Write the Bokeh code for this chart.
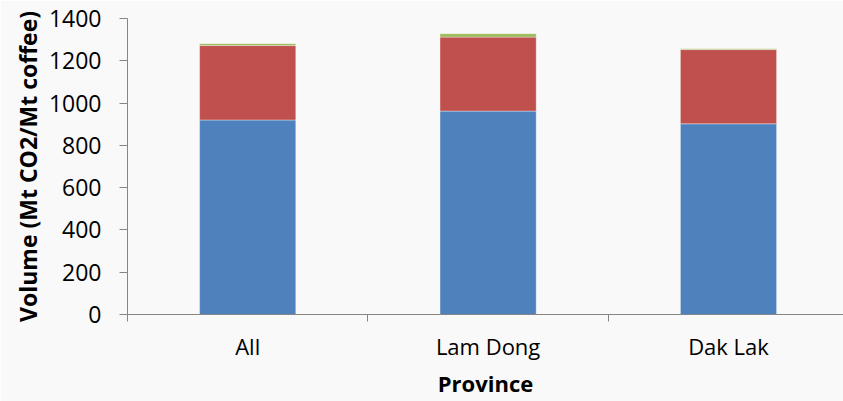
from bokeh.plotting import figure
from bokeh.models import ColumnDataSource, Range1d, FixedTicker
from bokeh.embed import file_html
from bokeh.resources import INLINE

categories = ["All", "Lam Dong", "Dak Lak"]
series_names = ["blue", "red", "green"]
blue_vals = [920, 962, 902]
red_vals = [352, 350, 351]
green_vals = [9, 16, 4]
colors = ["#4f81bd", "#c0504d", "#9bbb59"]
y_ticks = [0, 200, 400, 600, 800, 1000, 1200, 1400]

FONT = "Open Sans"
BG = "#f9f9f9"

xs = [i + 0.5 for i in range(len(categories))]
source = ColumnDataSource(dict(x=xs, blue=blue_vals, red=red_vals, green=green_vals))

p = figure(width=843, height=401, output_backend="svg", toolbar_location=None,
           x_range=Range1d(0, 716 / 240.4), y_range=Range1d(0, 1400),
           min_border_left=127, min_border_top=18, min_border_right=0, min_border_bottom=87)
p.background_fill_color = BG
p.border_fill_color = BG
p.outline_line_color = None
p.grid.grid_line_color = None

p.vbar_stack(series_names, x="x", width=0.4, source=source, color=colors,
             line_color="white", line_alpha=0.35, line_width=1)

# y axis
ya = p.yaxis[0]
ya.ticker = FixedTicker(ticks=y_ticks)
ya.axis_line_color = "#868686"
ya.major_tick_line_color = "#868686"
ya.major_tick_in = 0
ya.major_tick_out = 8
ya.minor_tick_line_color = None
ya.major_label_text_font = FONT
ya.major_label_text_font_size = "23px"
ya.major_label_text_color = "#000000"
ya.major_label_standoff = 18
ya.axis_label = "Volume (Mt CO2/Mt coffee)"
ya.axis_label_text_font = FONT
ya.axis_label_text_font_style = "bold"
ya.axis_label_text_font_size = "23px"
ya.axis_label_text_color = "#000000"
ya.axis_label_standoff = 2

# x axis
xa = p.xaxis[0]
xa.ticker = FixedTicker(ticks=xs, minor_ticks=list(range(len(categories) + 1)))
xa.major_label_overrides = {x: c for x, c in zip(xs, categories)}
xa.axis_line_color = "#868686"
xa.major_tick_line_color = None
xa.major_tick_in = 0
xa.major_tick_out = 0
xa.minor_tick_line_color = "#868686"
xa.minor_tick_in = 0
xa.minor_tick_out = 7
xa.major_label_text_font = FONT
xa.major_label_text_font_size = "22px"
xa.major_label_text_color = "#000000"
xa.major_label_standoff = 9
xa.axis_label = "Province"
xa.axis_label_text_font = FONT
xa.axis_label_text_font_style = "bold"
xa.axis_label_text_font_size = "22px"
xa.axis_label_text_color = "#000000"
xa.axis_label_standoff = 4

open("out.html", "w").write(file_html(p, INLINE))
